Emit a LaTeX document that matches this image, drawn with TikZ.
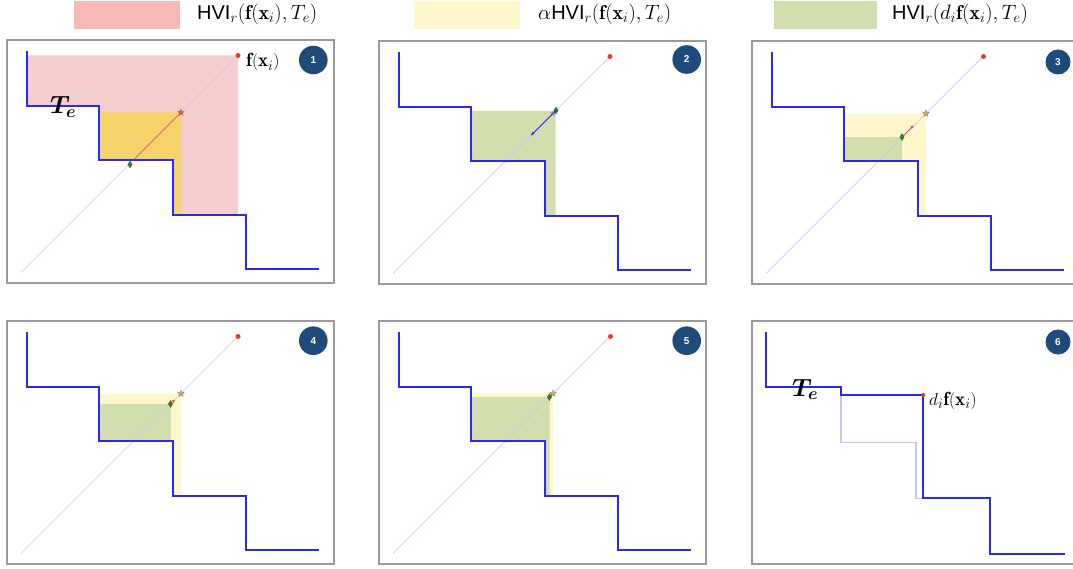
\documentclass[tikz,border=0pt]{standalone}
\usepackage{amsmath}
\usepackage{fontspec}
\newfontfamily\hvfont{Liberation Sans}
\usetikzlibrary{arrows.meta,shapes.geometric}
\definecolor{pinkL}{HTML}{F7B9B3}
\definecolor{pinkR}{HTML}{F5CDCD}
\definecolor{yel}{HTML}{FEF7CC}
\definecolor{grn}{HTML}{D2DEAE}
\definecolor{org}{HTML}{F7D36C}
\definecolor{stairblue}{rgb}{0.16,0.16,0.95}
\definecolor{stairfaint}{HTML}{C4C4F6}
\definecolor{diag}{HTML}{C6C6F4}
\definecolor{badgeblue}{HTML}{1F4B7B}
\definecolor{framegray}{HTML}{9A9A9A}
\definecolor{dotred}{HTML}{E83A2F}
\definecolor{dgreen}{HTML}{2F7A2F}
\definecolor{gold}{HTML}{D9AE4A}
\newcommand\mystairs{(19.7,11) -- (19.7,65.7) -- (92.3,65.7) -- (92.3,120) -- (166,120) -- (166,175) -- (238.7,175) -- (238.7,229.3) -- (312.3,229.3)}
\begin{document}
\begin{tikzpicture}[x=1pt,y=-1pt,
  panelframe/.style={draw=framegray, line width=1.2pt},
  stairline/.style={draw=stairblue, line width=1.8pt, line join=miter},
  diagline/.style={draw=diag, line width=0.7pt},
  reddot/.style={circle, fill=dotred, inner sep=0pt, minimum size=5pt},
  gdiam/.style={diamond, fill=dgreen, inner sep=0pt, minimum width=5pt, minimum height=8pt},
  goldstar/.style={star, star points=5, star point ratio=2.2, fill=gold, draw=gray, line width=0.3pt, inner sep=0pt, minimum size=7pt},
  badgec/.style={circle, fill=badgeblue, text=white, inner sep=0pt, minimum size=28.6pt, font=\hvfont\bfseries\fontsize{10}{10}\selectfont},
  badges/.style={badgec, minimum size=25pt},
  legtext/.style={anchor=base west, inner sep=0pt, font=\fontsize{20}{24}\selectfont},
  redarrow/.style={draw=dotred, line width=0.7pt, -{Stealth[length=3.5pt,width=2.8pt]}},
  bluearrow/.style={draw=stairblue, line width=0.8pt, -{Stealth[length=4pt,width=3pt]}},
  bigT/.style={anchor=base west, inner sep=0pt, font=\fontsize{27}{30}\selectfont},
  ptlabel/.style={anchor=base west, inner sep=0pt, font=\fontsize{19}{22}\selectfont}
]
\useasboundingbox (0,0) rectangle (1073,569);
\clip (0,0) rectangle (1073,569);

% legend
\fill[pinkL] (74,1) rectangle (180,29);
\node[legtext] (leg1) at (197,19.5) {{\hvfont HVI}$_r(\mathbf{f}(\mathbf{x}_i), T_e)$};
\fill[yel] (414,1) rectangle (520,29);
\node[legtext] (leg2) at (538,19.5) {$\alpha${\hvfont HVI}$_r(\mathbf{f}(\mathbf{x}_i), T_e)$};
\fill[grn] (774,1) rectangle (877,29);
\node[legtext] (leg3) at (892,19.5) {{\hvfont HVI}$_r(d_i\mathbf{f}(\mathbf{x}_i), T_e)$};

% ---------- panel 1
\begin{scope}[shift={(7,40)}]
  \draw[panelframe] (0,0) rectangle (327,243);
  \fill[pinkR] (19.7,15.5) -- (231,15.5) -- (231,175) -- (166,175) -- (166,120) -- (92.3,120) -- (92.3,65.7) -- (19.7,65.7) -- cycle;
  \fill[org] (92.3,72.5) -- (174,72.5) -- (174,175) -- (166,175) -- (166,120) -- (92.3,120) -- cycle;
  \coordinate (d1a) at (14,232.5);
  \coordinate (d1b) at (231,15.5);
  \draw[diagline] (d1a) -- (d1b);
  \draw[stairline] \mystairs;
  \node[gdiam] (g1) at (123,124.5) {};
  \coordinate (c1) at (126.5,120);
  \node[goldstar, fill=dotred!70!gold] (s1) at (174,72.5) {};
  \draw[draw=dotred, line width=0.7pt] (c1) -- (s1.center);
  \node[reddot] (r1) at (231,15.5) {};
  \node[ptlabel] (fl1) at (239,26.8) {$\mathbf{f}(\mathbf{x}_i)$};
  \node[bigT] (T1) at (43,73.3) {$\boldsymbol{T_e}$};
  \node[badgec] (b1) at (306.3,20) {1};
\end{scope}

% ---------- panel 2
\begin{scope}[shift={(379,41)}]
  \draw[panelframe] (0,0) rectangle (327,243);
  \fill[grn] (92.3,70) -- (176.5,70) -- (176.5,175) -- (166,175) -- (166,120) -- (92.3,120) -- cycle;
  \draw[diagline] (14,232.5) -- (231,15.5);
  \draw[stairline] \mystairs;
  \node[goldstar, fill=gray!60, minimum size=5pt] (s2) at (174,72.5) {};
  \node[gdiam] (g2) at (177,69.5) {};
  \coordinate (a2) at (152,94.5);
  \draw[bluearrow] (g2.center) -- (a2);
  \node[reddot] (r2) at (231,15.5) {};
  \node[badgec] (b2) at (307.7,18.5) {2};
\end{scope}

% ---------- panel 3
\begin{scope}[shift={(752,41)}]
  \draw[panelframe] (0,0) rectangle (323,243);
  \fill[yel] (92.3,72.5) -- (174,72.5) -- (174,175) -- (166,175) -- (166,120) -- (92.3,120) -- cycle;
  \fill[grn] (92.3,96) rectangle (150,120);
  \draw[diagline] (14,232.5) -- (231,15.5);
  \draw[stairline] \mystairs;
  \node[goldstar] (s3) at (174,72.5) {};
  \node[gdiam] (g3) at (150,96) {};
  \coordinate (a3) at (161.5,84.5);
  \draw[redarrow] (g3.center) -- (a3);
  \node[reddot] (r3) at (231.5,15.5) {};
  \node[badges] (b3) at (306,21) {3};
\end{scope}

% ---------- panel 4
\begin{scope}[shift={(7,321)}]
  \draw[panelframe] (0,0) rectangle (327,243);
  \fill[yel] (92.3,72.5) -- (174,72.5) -- (174,175) -- (166,175) -- (166,120) -- (92.3,120) -- cycle;
  \fill[grn] (92.3,83) rectangle (163.5,120);
  \draw[diagline] (14,232.5) -- (231,15.5);
  \draw[stairline] \mystairs;
  \node[goldstar] (s4) at (174,72.5) {};
  \node[gdiam] (g4) at (163.5,83) {};
  \coordinate (a4) at (168,78.5);
  \draw[redarrow] (g4.center) -- (a4);
  \node[reddot] (r4) at (231,15.5) {};
  \node[badgec] (b4) at (306.3,19.7) {4};
\end{scope}

% ---------- panel 5
\begin{scope}[shift={(379,321)}]
  \draw[panelframe] (0,0) rectangle (327,243);
  \fill[yel] (92.3,72.5) -- (174,72.5) -- (174,175) -- (166,175) -- (166,120) -- (92.3,120) -- cycle;
  \fill[grn] (92.3,76) -- (170.5,76) -- (170.5,175) -- (166,175) -- (166,120) -- (92.3,120) -- cycle;
  \draw[diagline] (14,232.5) -- (231,15.5);
  \draw[stairline] \mystairs;
  \node[goldstar] (s5) at (174,72.5) {};
  \node[gdiam] (g5) at (170.5,76) {};
  \coordinate (a5) at (173,73.5);
  \draw[draw=dotred, line width=0.7pt] (g5.center) -- (a5);
  \node[reddot] (r5) at (231.5,15.5) {};
  \node[badgec] (b5) at (307.7,19.7) {5};
\end{scope}

% ---------- panel 6
\begin{scope}[shift={(752,321)}]
  \draw[panelframe] (0,0) rectangle (323,243);
  \draw[draw=stairfaint, line width=1.2pt] (89,74) -- (89,121.7) -- (164,121.7) -- (164,177.3) -- (171.3,177.3);
  \draw[stairline] (14.3,10.7) -- (14.3,66.3) -- (89,66.3) -- (89,74) -- (171.3,74) -- (171.3,177.3) -- (237.6,177.3) -- (237.6,232.7) -- (312.6,232.7);
  \node[reddot, minimum size=4pt] (r6) at (171.3,74) {};
  \node[ptlabel] (dl6) at (177,84) {$d_i\mathbf{f}(\mathbf{x}_i)$};
  \node[bigT, font=\fontsize{25}{28}\selectfont] (T6) at (40,75) {$\boldsymbol{T_e}$};
  \node[badges] (b6) at (306,21) {6};
\end{scope}
\end{tikzpicture}
\end{document}
